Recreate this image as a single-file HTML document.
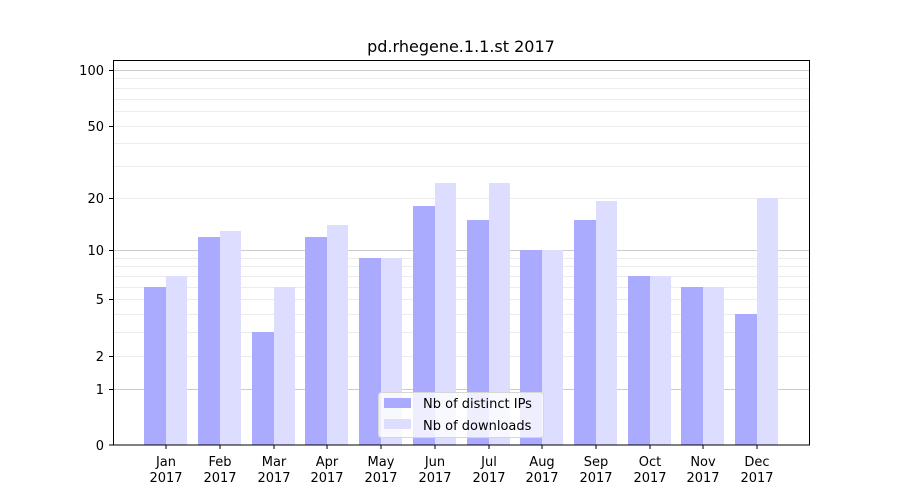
<!DOCTYPE html>
<html><head><meta charset="utf-8"><style>body{margin:0;background:#fff}svg{display:block}text{font-family:"DejaVu Sans","Liberation Sans",sans-serif;font-size:13px;fill:#000}</style></head>
<body>
<svg width="900" height="500" xmlns="http://www.w3.org/2000/svg">
<rect width="900" height="500" fill="#fff"/>
<g stroke="#ececec" stroke-width="1">
<line x1="113" x2="810" y1="332.5" y2="332.5"/><line x1="113" x2="810" y1="314.5" y2="314.5"/>
<line x1="113" x2="810" y1="287.5" y2="287.5"/><line x1="113" x2="810" y1="276.5" y2="276.5"/>
<line x1="113" x2="810" y1="266.5" y2="266.5"/><line x1="113" x2="810" y1="258.5" y2="258.5"/>
<line x1="113" x2="810" y1="166.5" y2="166.5"/><line x1="113" x2="810" y1="143.5" y2="143.5"/>
<line x1="113" x2="810" y1="111.5" y2="111.5"/><line x1="113" x2="810" y1="99.5" y2="99.5"/>
<line x1="113" x2="810" y1="88.5" y2="88.5"/><line x1="113" x2="810" y1="78.5" y2="78.5"/>
<line x1="113" x2="810" y1="356.5" y2="356.5"/><line x1="113" x2="810" y1="299.5" y2="299.5"/>
<line x1="113" x2="810" y1="198.5" y2="198.5"/><line x1="113" x2="810" y1="126.5" y2="126.5"/>
</g>
<g stroke="#cccccc"><line x1="113" x2="810" y1="389.5" y2="389.5"/><line x1="113" x2="810" y1="250.5" y2="250.5"/><line x1="113" x2="810" y1="70.5" y2="70.5"/></g>
<g fill="#aaaaff">
<rect x="144" y="287" width="22" height="158"/>
<rect x="198" y="237" width="22" height="208"/>
<rect x="252" y="332" width="22" height="113"/>
<rect x="305" y="237" width="22" height="208"/>
<rect x="359" y="258" width="22" height="187"/>
<rect x="413" y="206" width="22" height="239"/>
<rect x="467" y="220" width="22" height="225"/>
<rect x="520" y="250" width="22" height="195"/>
<rect x="574" y="220" width="22" height="225"/>
<rect x="628" y="276" width="22" height="169"/>
<rect x="681" y="287" width="22" height="158"/>
<rect x="735" y="314" width="22" height="131"/>
</g>
<g fill="#ddddff">
<rect x="166" y="276" width="21" height="169"/>
<rect x="220" y="231" width="21" height="214"/>
<rect x="274" y="287" width="21" height="158"/>
<rect x="327" y="225" width="21" height="220"/>
<rect x="381" y="258" width="21" height="187"/>
<rect x="435" y="183" width="21" height="262"/>
<rect x="489" y="183" width="21" height="262"/>
<rect x="542" y="250" width="21" height="195"/>
<rect x="596" y="201" width="21" height="244"/>
<rect x="650" y="276" width="21" height="169"/>
<rect x="703" y="287" width="21" height="158"/>
<rect x="757" y="198" width="21" height="247"/>
</g>
<rect x="113.5" y="60.5" width="696" height="384.5" fill="none" stroke="#000"/>
<g stroke="#000">
<line x1="109" x2="113" y1="445" y2="445"/><line x1="109" x2="113" y1="389.5" y2="389.5"/>
<line x1="109" x2="113" y1="356.5" y2="356.5"/><line x1="109" x2="113" y1="299.5" y2="299.5"/>
<line x1="109" x2="113" y1="250.5" y2="250.5"/><line x1="109" x2="113" y1="198.5" y2="198.5"/>
<line x1="109" x2="113" y1="126.5" y2="126.5"/><line x1="109" x2="113" y1="70.5" y2="70.5"/>
<line x1="166" x2="166" y1="445" y2="449"/><line x1="220" x2="220" y1="445" y2="449"/>
<line x1="274" x2="274" y1="445" y2="449"/><line x1="327" x2="327" y1="445" y2="449"/>
<line x1="381" x2="381" y1="445" y2="449"/><line x1="435" x2="435" y1="445" y2="449"/>
<line x1="489" x2="489" y1="445" y2="449"/><line x1="542" x2="542" y1="445" y2="449"/>
<line x1="596" x2="596" y1="445" y2="449"/><line x1="650" x2="650" y1="445" y2="449"/>
<line x1="703" x2="703" y1="445" y2="449"/><line x1="757" x2="757" y1="445" y2="449"/>
</g>
<g text-anchor="end">
<text x="104" y="450">0</text><text x="104" y="394">1</text><text x="104" y="361">2</text>
<text x="104" y="304">5</text><text x="104" y="255">10</text><text x="104" y="203">20</text>
<text x="104" y="131">50</text><text x="104" y="75">100</text>
</g>
<g text-anchor="middle">
<text x="166" y="466">Jan</text><text x="166" y="482">2017</text>
<text x="220" y="466">Feb</text><text x="220" y="482">2017</text>
<text x="274" y="466">Mar</text><text x="274" y="482">2017</text>
<text x="327" y="466">Apr</text><text x="327" y="482">2017</text>
<text x="381" y="466">May</text><text x="381" y="482">2017</text>
<text x="435" y="466">Jun</text><text x="435" y="482">2017</text>
<text x="489" y="466">Jul</text><text x="489" y="482">2017</text>
<text x="542" y="466">Aug</text><text x="542" y="482">2017</text>
<text x="596" y="466">Sep</text><text x="596" y="482">2017</text>
<text x="650" y="466">Oct</text><text x="650" y="482">2017</text>
<text x="703" y="466">Nov</text><text x="703" y="482">2017</text>
<text x="757" y="466">Dec</text><text x="757" y="482">2017</text>
<text x="461" y="52" style="font-size:16px">pd.rhegene.1.1.st 2017</text>
</g>
<rect x="378.5" y="392.5" width="165" height="45" rx="3" fill="#fff" fill-opacity="0.8" stroke="#d6d6d6"/>
<rect x="384" y="398" width="27" height="10" fill="#aaaaff"/>
<rect x="384" y="419" width="27" height="10" fill="#ddddff"/>
<text x="423" y="408">Nb of distinct IPs</text>
<text x="423" y="430">Nb of downloads</text>
</svg>
</body></html>
